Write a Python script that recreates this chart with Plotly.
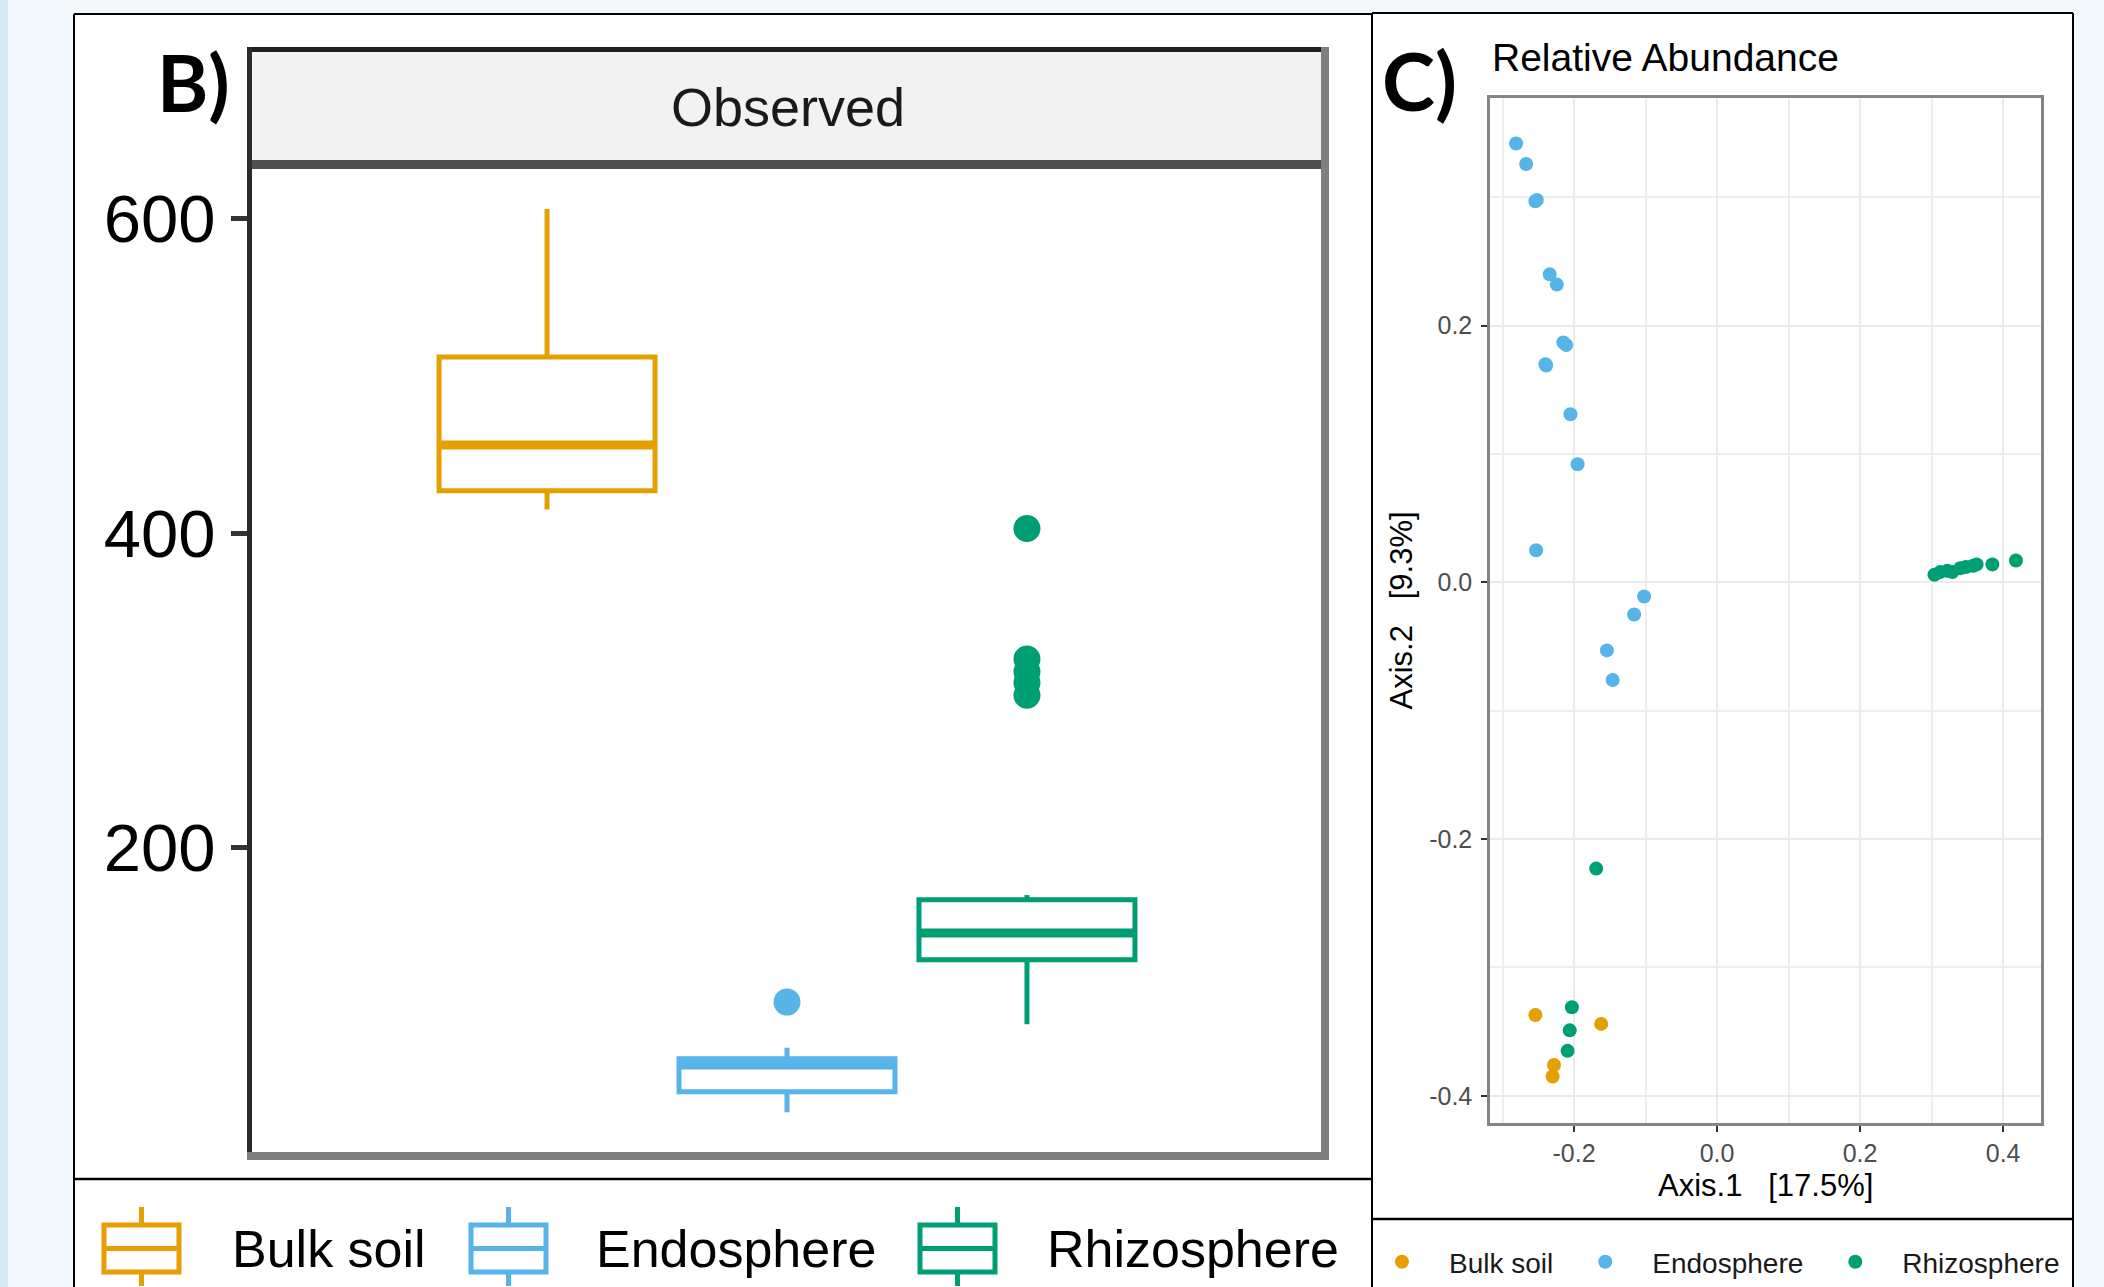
import plotly.graph_objects as go

W, H = 2104, 1287


def px(x):
    return x / W


def py(y):
    return 1 - y / H


# ---------------- data ----------------
groups = ["Bulk soil", "Endosphere", "Rhizosphere"]
colors = ["#E69F00", "#56B4E9", "#009E73"]

# Panel B: Observed richness box statistics
obs_lower = [415, 32, 88]
obs_q1 = [427, 45, 129]
obs_median = [456, 62, 146]
obs_q3 = [512, 66, 167]
obs_upper = [606, 73, 170]
obs_outliers = [[], [102], [403, 320, 312, 305, 297]]
obs_ticks = [200, 400, 600]

# Panel C: ordination (Axis.1, Axis.2)
bulk_x = [-0.254, -0.162, -0.228, -0.230]
bulk_y = [-0.337, -0.344, -0.376, -0.385]
endo_x = [-0.281, -0.267, -0.254, -0.252, -0.234, -0.224, -0.215, -0.211, -0.240,
          -0.239, -0.205, -0.195, -0.253, -0.102, -0.116, -0.154, -0.146]
endo_y = [0.342, 0.326, 0.297, 0.298, 0.240, 0.232, 0.187, 0.185, 0.170,
          0.169, 0.131, 0.092, 0.025, -0.011, -0.025, -0.053, -0.076]
rhizo_x = [0.304, 0.312, 0.322, 0.329, 0.340, 0.348, 0.358, 0.363, 0.385, 0.418,
           -0.169, -0.203, -0.206, -0.209]
rhizo_y = [0.006, 0.008, 0.009, 0.008, 0.011, 0.012, 0.013, 0.014, 0.014, 0.017,
           -0.223, -0.331, -0.349, -0.365]
pcoa_x = [bulk_x, endo_x, rhizo_x]
pcoa_y = [bulk_y, endo_y, rhizo_y]
ax1_ticks = [-0.2, 0.0, 0.2, 0.4]
ax1_labels = ["-0.2", "0.0", "0.2", "0.4"]
ax2_ticks = [-0.4, -0.2, 0.0, 0.2]
ax2_labels = ["-0.4", "-0.2", "0.0", "0.2"]

# ---------------- styles ----------------
NARROW = "Liberation Sans Narrow, Arial Narrow, Liberation Sans, Arial, sans-serif"
SANS = "Liberation Sans, Arial, Helvetica, sans-serif"
BOLD = "Lato, Open Sans, Liberation Sans, sans-serif"
box_width = 0.9

fig = go.Figure()

# Panel B boxes
for i, g in enumerate(groups):
    fig.add_trace(go.Box(
        x=[i], q1=[obs_q1[i]], median=[obs_median[i]], q3=[obs_q3[i]],
        lowerfence=[obs_lower[i]], upperfence=[obs_upper[i]],
        width=box_width, whiskerwidth=0, boxpoints=False,
        fillcolor="white", line=dict(color=colors[i], width=5),
        name=g, showlegend=False, xaxis="x", yaxis="y"))
    fig.add_trace(go.Scatter(
        x=[i - box_width / 2, i + box_width / 2], y=[obs_median[i], obs_median[i]],
        mode="lines", line=dict(color=colors[i], width=9),
        showlegend=False, hoverinfo="skip", xaxis="x", yaxis="y"))
    if obs_outliers[i]:
        fig.add_trace(go.Scatter(
            x=[i] * len(obs_outliers[i]), y=obs_outliers[i], mode="markers",
            marker=dict(color=colors[i], size=27), name=g,
            showlegend=False, xaxis="x", yaxis="y"))

# Panel C scatter
for i, g in enumerate(groups):
    fig.add_trace(go.Scatter(
        x=pcoa_x[i], y=pcoa_y[i], mode="markers", name=g,
        marker=dict(color=colors[i], size=14),
        xaxis="x2", yaxis="y2", showlegend=True))


def pline(x0, y0, x1, y1, color, width):
    return dict(type="line", xref="paper", yref="paper", x0=px(x0), x1=px(x1), y0=py(y0), y1=py(y1),
                line=dict(color=color, width=width))


shapes = []
# left decorative edge
shapes.append(dict(type="rect", xref="paper", yref="paper", x0=px(0), x1=px(8), y0=py(1287), y1=py(0),
                   fillcolor="#D5ECF4", line=dict(width=0), layer="below"))
# frames (white fills + border lines, kept inside the page)
shapes.append(dict(type="rect", xref="paper", yref="paper", x0=px(74), x1=px(1372), y0=py(1287), y1=py(14),
                   fillcolor="white", line=dict(width=0), layer="below"))
shapes.append(dict(type="rect", xref="paper", yref="paper", x0=px(1372), x1=px(2073), y0=py(1287), y1=py(13),
                   fillcolor="white", line=dict(width=0), layer="below"))
shapes.append(pline(74, 14, 1372, 14, "black", 2))
shapes.append(pline(74, 14, 74, 1287, "black", 2))
shapes.append(pline(1372, 13, 2073, 13, "black", 2))
shapes.append(pline(1372, 13, 1372, 1287, "black", 2))
shapes.append(pline(2073, 13, 2073, 1287, "black", 2))
shapes.append(pline(74, 1179, 1372, 1179, "black", 2.5))
shapes.append(pline(1372, 1219, 2073, 1219, "black", 2.5))
# strip
shapes.append(dict(type="rect", xref="paper", yref="paper", x0=px(249), x1=px(1325), y0=py(165), y1=py(49),
                   fillcolor="#F2F2F2", line=dict(width=0), layer="below"))
shapes.append(pline(247, 49.5, 1329, 49.5, "#1F1F1F", 5))
shapes.append(pline(247, 164.5, 1329, 164.5, "#505050", 9))
# panel B borders
shapes.append(pline(249.5, 47, 249.5, 1160, "#2B2B2B", 5))
shapes.append(pline(1325, 47, 1325, 1160, "#7F7F7F", 8))
shapes.append(pline(247, 1156, 1329, 1156, "#7F7F7F", 8))

# Panel B legend keys (box glyphs)
b_key_left = [104, 471, 920]
b_label_left = [230, 594, 1045]
key_w = 75
for i, g in enumerate(groups):
    c = colors[i]
    xl = b_key_left[i]
    xc = xl + key_w / 2
    shapes.append(dict(type="rect", xref="paper", yref="paper", x0=px(xl), x1=px(xl + key_w),
                       y0=py(1272), y1=py(1225), fillcolor="white", line=dict(color=c, width=5)))
    shapes.append(pline(xl, 1248.5, xl + key_w, 1248.5, c, 5))
    shapes.append(pline(xc, 1207, xc, 1225, c, 5))
    shapes.append(pline(xc, 1272, xc, 1286, c, 5))

annotations = []
annotations.append(dict(text="<b>B)</b>", x=px(193.5), y=py(82), xref="paper", yref="paper",
                        xanchor="center", yanchor="middle", showarrow=False,
                        font=dict(family=BOLD, size=78, color="black")))
annotations.append(dict(text="<b>C)</b>", x=px(1419.5), y=py(80), xref="paper", yref="paper",
                        xanchor="center", yanchor="middle", showarrow=False,
                        font=dict(family=BOLD, size=80, color="black")))
annotations.append(dict(text="Observed", x=px(788), y=py(107.5), xref="paper", yref="paper",
                        xanchor="center", yanchor="middle", showarrow=False,
                        font=dict(family=NARROW, size=54, color="#1A1A1A")))
annotations.append(dict(text="Relative Abundance", x=px(1490), y=py(58), xref="paper", yref="paper",
                        xanchor="left", yanchor="middle", showarrow=False,
                        font=dict(family=SANS, size=39, color="black")))
annotations.append(dict(text="Axis.1\u00a0\u00a0\u00a0[17.5%]", x=px(1765.5), y=py(1185), xref="paper", yref="paper",
                        xanchor="center", yanchor="middle", showarrow=False,
                        font=dict(family=SANS, size=31, color="black")))
annotations.append(dict(text="Axis.2\u00a0\u00a0\u00a0[9.3%]", x=px(1401), y=py(610.5), xref="paper", yref="paper",
                        xanchor="center", yanchor="middle", showarrow=False, textangle=-90,
                        font=dict(family=SANS, size=31, color="black")))
for i, g in enumerate(groups):
    annotations.append(dict(text=g, x=px(b_label_left[i]), y=py(1249), xref="paper", yref="paper",
                            xanchor="left", yanchor="middle", showarrow=False,
                            font=dict(family=SANS, size=52, color="black")))

fig.update_layout(
    width=W, height=H,
    margin=dict(l=0, r=0, t=0, b=0),
    paper_bgcolor="#F2F8FB",
    plot_bgcolor="white",
    shapes=shapes,
    annotations=annotations,
    xaxis=dict(domain=[px(249), px(1325)], range=[-1.242, 3.242], showticklabels=False,
               ticks="", showgrid=False, zeroline=False, showline=False, fixedrange=True),
    yaxis=dict(domain=[py(1156), py(165)], range=[4.2, 634], tickvals=obs_ticks,
               ticks="outside", ticklen=17, tickwidth=5, tickcolor="#333333",
               tickfont=dict(family=NARROW, size=67, color="black"), ticklabelstandoff=2,
               showgrid=False, zeroline=False, showline=False),
    xaxis2=dict(domain=[px(1490), px(2041)], range=[-0.3175, 0.453], anchor="y2",
                tickvals=ax1_ticks, ticktext=ax1_labels,
                ticks="outside", ticklen=6, tickwidth=2, tickcolor="#333333",
                tickfont=dict(family=SANS, size=25, color="#4D4D4D"),
                showgrid=True, gridcolor="#EBEBEB", gridwidth=2,
                minor=dict(dtick=0.1, tick0=0, showgrid=True, gridcolor="#EEEEEE", gridwidth=1.6, ticks=""),
                zeroline=False, showline=True, mirror=True, linecolor="#858585", linewidth=2.5),
    yaxis2=dict(domain=[py(1123), py(98)], range=[-0.4212, 0.3774], anchor="x2",
                tickvals=ax2_ticks, ticktext=ax2_labels,
                ticks="outside", ticklen=6, tickwidth=2, tickcolor="#333333",
                tickfont=dict(family=SANS, size=25, color="#4D4D4D"), ticklabelstandoff=4,
                showgrid=True, gridcolor="#EBEBEB", gridwidth=2,
                minor=dict(dtick=0.1, tick0=0, showgrid=True, gridcolor="#EEEEEE", gridwidth=1.6, ticks=""),
                zeroline=False, showline=True, mirror=True, linecolor="#858585", linewidth=2.5),
    legend=dict(orientation="h", x=px(1355), y=0, xanchor="left", yanchor="bottom",
                font=dict(family=SANS, size=28, color="#1A1A1A"), bgcolor="rgba(0,0,0,0)",
                itemwidth=84, traceorder="normal"),
)

fig.write_html("out.html")
